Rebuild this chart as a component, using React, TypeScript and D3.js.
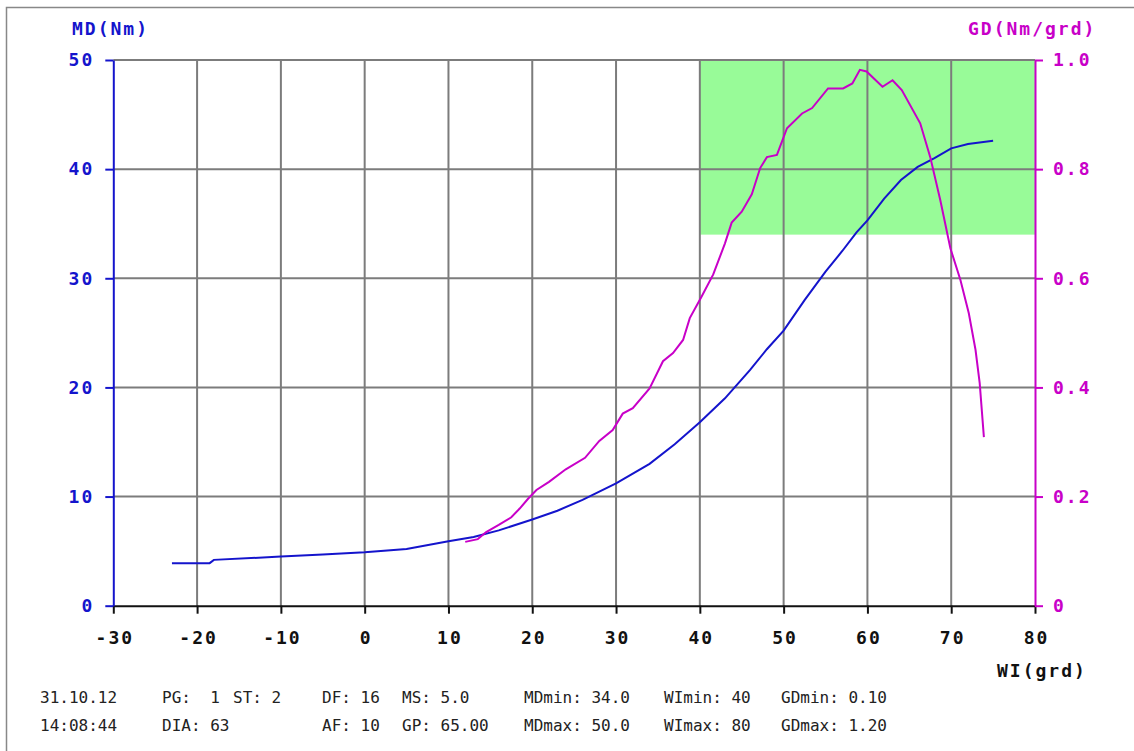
import React, { useEffect, useRef } from 'react';
import * as d3 from 'd3';

// angle (grd) vs torque MD (Nm)
const mdAngle = [-23, -18.5, -18, -10, -5, 0, 5, 10, 13, 16, 20, 23, 26, 30, 34, 37, 40, 43, 46, 48, 50, 52.5, 55, 57, 58.7, 60, 62, 64, 66, 68, 70, 72, 75];
const mdValue = [3.9, 3.9, 4.2, 4.5, 4.7, 4.9, 5.2, 5.9, 6.3, 6.9, 7.9, 8.7, 9.7, 11.2, 13.0, 14.8, 16.8, 19.0, 21.6, 23.5, 25.2, 28.0, 30.6, 32.5, 34.2, 35.3, 37.3, 39.0, 40.2, 41.0, 41.9, 42.3, 42.6];

// angle (grd) vs gradient GD (Nm/grd)
const gdAngle = [12.0, 13.5, 14.5, 16, 17.5, 18.5, 19.5, 20.5, 22, 24, 26.3, 28, 29.6, 30.8, 32, 34, 35.6, 36.8, 38, 38.8, 40.2, 41.6, 43, 43.8, 45, 46.2, 47.2, 48, 49.2, 50.4, 52.2, 53.4, 55.3, 57.1, 58.2, 59.1, 59.9, 61.8, 63, 64.1, 66.3, 67.5, 68.7, 69.9, 71.1, 72.1, 72.9, 73.4, 73.9];
const gdValue = [0.117, 0.122, 0.135, 0.148, 0.162, 0.178, 0.196, 0.212, 0.227, 0.25, 0.271, 0.302, 0.322, 0.352, 0.362, 0.398, 0.448, 0.463, 0.487, 0.527, 0.566, 0.607, 0.664, 0.702, 0.722, 0.754, 0.802, 0.822, 0.826, 0.875, 0.902, 0.912, 0.948, 0.948, 0.957, 0.982, 0.979, 0.951, 0.963, 0.945, 0.884, 0.822, 0.743, 0.655, 0.597, 0.536, 0.469, 0.408, 0.309];

const xTicks = [-30, -20, -10, 0, 10, 20, 30, 40, 50, 60, 70, 80];
const mdTicks = [0, 10, 20, 30, 40, 50];
const gdTicks = [0, 0.2, 0.4, 0.6, 0.8, 1.0];

// tolerance window (MDmin/MDmax, WImin/WImax)
const windowX = [40, 80];
const windowMD = [34, 50];

const infoRow1 = [
  ['31.10.12', 40], ['PG:  1', 162], ['ST: 2', 233], ['DF: 16', 322], ['MS: 5.0', 402],
  ['MDmin: 34.0', 524], ['WImin: 40', 664], ['GDmin: 0.10', 781],
];
const infoRow2 = [
  ['14:08:44', 40], ['DIA: 63', 162], ['AF: 10', 322], ['GP: 65.00', 402],
  ['MDmax: 50.0', 524], ['WImax: 80', 664], ['GDmax: 1.20', 781],
];

const W = 1134;
const H = 751;
const BLUE = '#1414cc';
const MAG = '#c800c8';
const MONO = '"DejaVu Sans Mono", "Liberation Mono", monospace';

export default function App() {
  const ref = useRef(null);

  useEffect(() => {
    const svg = d3.select(ref.current);
    svg.selectAll('*').remove();

    const x = d3.scaleLinear().domain([-30, 80]).range([113.3, 1035]);
    const yL = d3.scaleLinear().domain([0, 50]).range([605.7, 60]);
    const yR = d3.scaleLinear().domain([0, 1]).range([605.7, 60]);

    // frame
    svg.append('path')
      .attr('d', `M6.5,${H} V7.5 H${W}`)
      .attr('fill', 'none')
      .attr('stroke', '#888')
      .attr('stroke-width', 1.5);

    // green window
    svg.append('rect')
      .attr('x', x(windowX[0]))
      .attr('y', yL(windowMD[1]))
      .attr('width', x(windowX[1]) - x(windowX[0]))
      .attr('height', yL(windowMD[0]) - yL(windowMD[1]))
      .attr('fill', '#98fb98');

    // grid
    const grid = svg.append('g').attr('stroke', '#7c7c7c').attr('stroke-width', 2);
    grid.selectAll('.vg')
      .data(xTicks.filter(d => d > -30 && d < 80))
      .join('line')
      .attr('x1', d => x(d)).attr('x2', d => x(d))
      .attr('y1', yL(50)).attr('y2', yL(0));
    grid.selectAll('.hg')
      .data(mdTicks.filter(d => d > 0))
      .join('line')
      .attr('x1', x(-30)).attr('x2', x(80))
      .attr('y1', d => yL(d)).attr('y2', d => yL(d));

    const styleAxis = (g, color) => {
      g.select('.domain').attr('stroke', color).attr('stroke-width', 2);
      g.selectAll('.tick line').attr('stroke', color).attr('stroke-width', 2);
      g.selectAll('.tick text')
        .attr('fill', color)
        .style('font-family', MONO)
        .style('font-weight', 'bold')
        .style('font-size', '18px')
        .style('letter-spacing', '2px');
    };

    const xAxis = d3.axisBottom(x).tickValues(xTicks).tickSize(8).tickPadding(18).tickSizeOuter(0)
      .tickFormat(d => String(d));
    const xg = svg.append('g').attr('transform', `translate(0,${yL(0)})`).call(xAxis);
    styleAxis(xg, '#111');
    xg.selectAll('.tick text').attr('dx', 1);

    const lAxis = d3.axisLeft(yL).tickValues(mdTicks).tickSize(8).tickPadding(11).tickSizeOuter(0)
      .tickFormat(d => String(d));
    const lg = svg.append('g').attr('transform', `translate(${x(-30)},0)`).call(lAxis);
    styleAxis(lg, BLUE);

    const rAxis = d3.axisRight(yR).tickValues(gdTicks).tickSize(8).tickPadding(10).tickSizeOuter(0)
      .tickFormat(d => (d === 0 ? '0' : d3.format('.1f')(d)));
    const rg = svg.append('g').attr('transform', `translate(${x(80)},0)`).call(rAxis);
    styleAxis(rg, MAG);

    // curves
    const lineMD = d3.line().x(d => x(d[0])).y(d => yL(d[1]));
    const lineGD = d3.line().x(d => x(d[0])).y(d => yR(d[1]));

    svg.append('path')
      .datum(mdAngle.map((a, i) => [a, mdValue[i]]))
      .attr('d', lineMD)
      .attr('fill', 'none')
      .attr('stroke', BLUE)
      .attr('stroke-width', 2);

    svg.append('path')
      .datum(gdAngle.map((a, i) => [a, gdValue[i]]))
      .attr('d', lineGD)
      .attr('fill', 'none')
      .attr('stroke', MAG)
      .attr('stroke-width', 2);

    // axis titles
    const title = (txt, tx, ty, color) =>
      svg.append('text')
        .attr('x', tx).attr('y', ty)
        .attr('fill', color)
        .style('font-family', MONO)
        .style('font-weight', 'bold')
        .style('font-size', '18px')
        .style('letter-spacing', '2px')
        .text(txt);
    title('MD(Nm)', 72, 35, BLUE);
    title('GD(Nm/grd)', 968, 35, MAG);
    title('WI(grd)', 997, 677, '#111');

    // info block
    const info = svg.append('g')
      .attr('fill', '#222')
      .style('font-family', MONO)
      .style('font-size', '16px');
    info.selectAll('.r1')
      .data(infoRow1)
      .join('text')
      .attr('x', d => d[1]).attr('y', 703)
      .style('white-space', 'pre')
      .text(d => d[0]);
    info.selectAll('.r2')
      .data(infoRow2)
      .join('text')
      .attr('x', d => d[1]).attr('y', 731)
      .style('white-space', 'pre')
      .text(d => d[0]);
  }, []);

  return (
    <svg
      ref={ref}
      width={W}
      height={H}
      style={{ position: 'absolute', left: 0, top: 0, background: '#fff' }}
    />
  );
}
